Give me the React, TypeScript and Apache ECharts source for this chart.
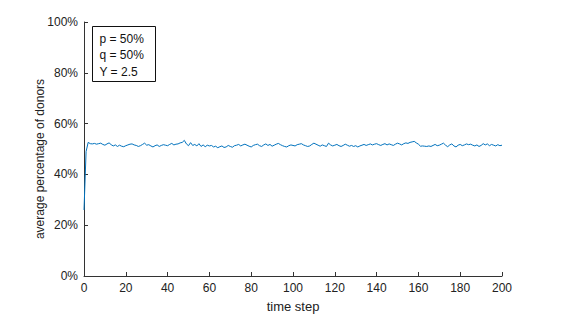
import React, { useEffect, useRef } from "react";
import * as echarts from "echarts";

const steps: number[] = Array.from({ length: 201 }, (_, i) => i);
const donors: number[] = [
  26, 49, 52.6, 52.1, 52.0, 52.2, 51.9, 52.1, 52.3, 51.8,
  51.5, 52.0, 52.4, 51.7, 51.2, 51.6, 51.0, 51.5, 51.1, 50.9,
  51.3, 51.6, 51.9, 52.0, 51.6, 51.4, 51.0, 51.3, 51.8, 52.3,
  51.5, 51.7, 51.2, 50.8, 51.3, 51.6, 51.0, 51.4, 51.7, 51.5,
  51.3, 51.8, 52.2, 51.6, 51.9, 52.0, 52.4, 52.6, 53.4, 52.0,
  51.3, 52.5, 51.4, 51.8, 51.2, 52.1, 51.0, 51.6, 50.9, 51.5,
  51.2, 51.4, 50.8, 51.1, 50.5, 50.9, 51.2, 50.6, 50.8, 51.4,
  51.0, 50.7, 51.3, 51.5, 51.8, 51.2, 51.6, 51.9, 51.5, 51.1,
  50.8, 51.4, 51.7, 51.9, 51.3, 51.0, 51.6, 52.0, 51.4, 51.8,
  51.1, 51.5, 51.9, 52.2, 51.7, 51.3, 51.0, 50.8, 51.3, 51.6,
  51.4, 51.2, 51.7, 51.9, 52.1, 51.6, 51.3, 51.0, 51.2, 51.8,
  52.3, 51.9, 51.5, 51.1, 51.6, 51.3, 51.0, 52.3, 51.6, 51.2,
  51.5, 51.8, 51.3, 51.0, 51.4, 51.9, 51.5, 51.1, 51.4, 51.0,
  51.3, 50.8, 51.2, 51.5, 51.8, 51.4, 51.7, 52.0, 51.6, 51.9,
  52.1, 51.7, 51.4, 51.8, 52.1, 51.6, 52.0, 51.7, 51.4, 51.9,
  52.3, 52.0, 51.6, 52.1, 52.4, 52.2, 52.6, 52.8, 53.0, 52.4,
  51.9, 51.1, 51.2, 51.1, 51.0, 51.2, 51.0, 51.4, 51.8, 51.3,
  51.5, 51.9, 52.3, 51.5, 50.9, 51.6, 52.0, 51.2, 50.8, 51.5,
  51.8, 51.3, 51.6, 52.0, 51.7, 51.9, 51.5, 51.2, 51.6, 51.0,
  51.4, 52.1, 51.6, 52.0, 51.3, 51.8, 51.5, 51.2, 51.7, 51.3,
  51.5,
];
const legendLines: string[] = ["p = 50%", "q = 50%", "Y = 2.5"];
const xTitle = "time step";
const yTitle = "average percentage of donors";

const FONT = "'Liberation Sans', Arial, Helvetica, sans-serif";

export default function App() {
  const ref = useRef<HTMLDivElement>(null);
  useEffect(() => {
    if (!ref.current) return;
    const chart = echarts.init(ref.current, undefined, { renderer: "svg" });
    const axisLine = { show: true, lineStyle: { color: "#333", width: 1 } };
    chart.setOption({
      animation: false,
      backgroundColor: "#fff",
      textStyle: { fontFamily: FONT },
      grid: { left: 84, right: 70, top: 22, bottom: 41 },
      xAxis: {
        type: "value",
        min: 0,
        max: 200,
        interval: 20,
        axisLine,
        axisTick: { show: true, inside: true, length: 4, lineStyle: { color: "#333" } },
        axisLabel: { color: "#222", fontSize: 12, margin: 6, fontFamily: FONT },
        splitLine: { show: false },
        name: xTitle,
        nameLocation: "middle",
        nameGap: 24,
        nameTextStyle: { color: "#222", fontSize: 13, fontFamily: FONT },
      },
      yAxis: {
        type: "value",
        min: 0,
        max: 100,
        interval: 20,
        axisLine,
        axisTick: { show: true, inside: true, length: 4, lineStyle: { color: "#333" } },
        axisLabel: { color: "#222", fontSize: 12, margin: 6, formatter: "{value}%", fontFamily: FONT },
        splitLine: { show: false },
      },
      series: [
        {
          type: "line",
          data: steps.map((s, i) => [s, donors[i]]),
          showSymbol: false,
          symbol: "none",
          lineStyle: { color: "#0072BD", width: 1 },
        },
      ],
      graphic: [
        {
          type: "text",
          x: 40,
          y: 159,
          rotation: Math.PI / 2,
          style: {
            text: yTitle,
            fill: "#222",
            font: `12px ${FONT}`,
            align: "center",
            verticalAlign: "middle",
          },
        },
        {
          type: "group",
          left: 92,
          top: 26,
          children: [
            {
              type: "rect",
              shape: { x: 0, y: 0, width: 63, height: 55 },
              style: { fill: "#fff", stroke: "#111", lineWidth: 1 },
            },
            ...legendLines.map((t, i) => ({
              type: "text",
              x: 7,
              y: 12 + i * 16.5,
              style: {
                text: t,
                fill: "#111",
                font: `12px ${FONT}`,
                verticalAlign: "middle",
              },
            })),
          ],
        },
      ],
    });
    return () => chart.dispose();
  }, []);
  return (
    <div
      ref={ref}
      style={{ position: "fixed", left: 0, top: 0, width: 572, height: 318 }}
    />
  );
}
